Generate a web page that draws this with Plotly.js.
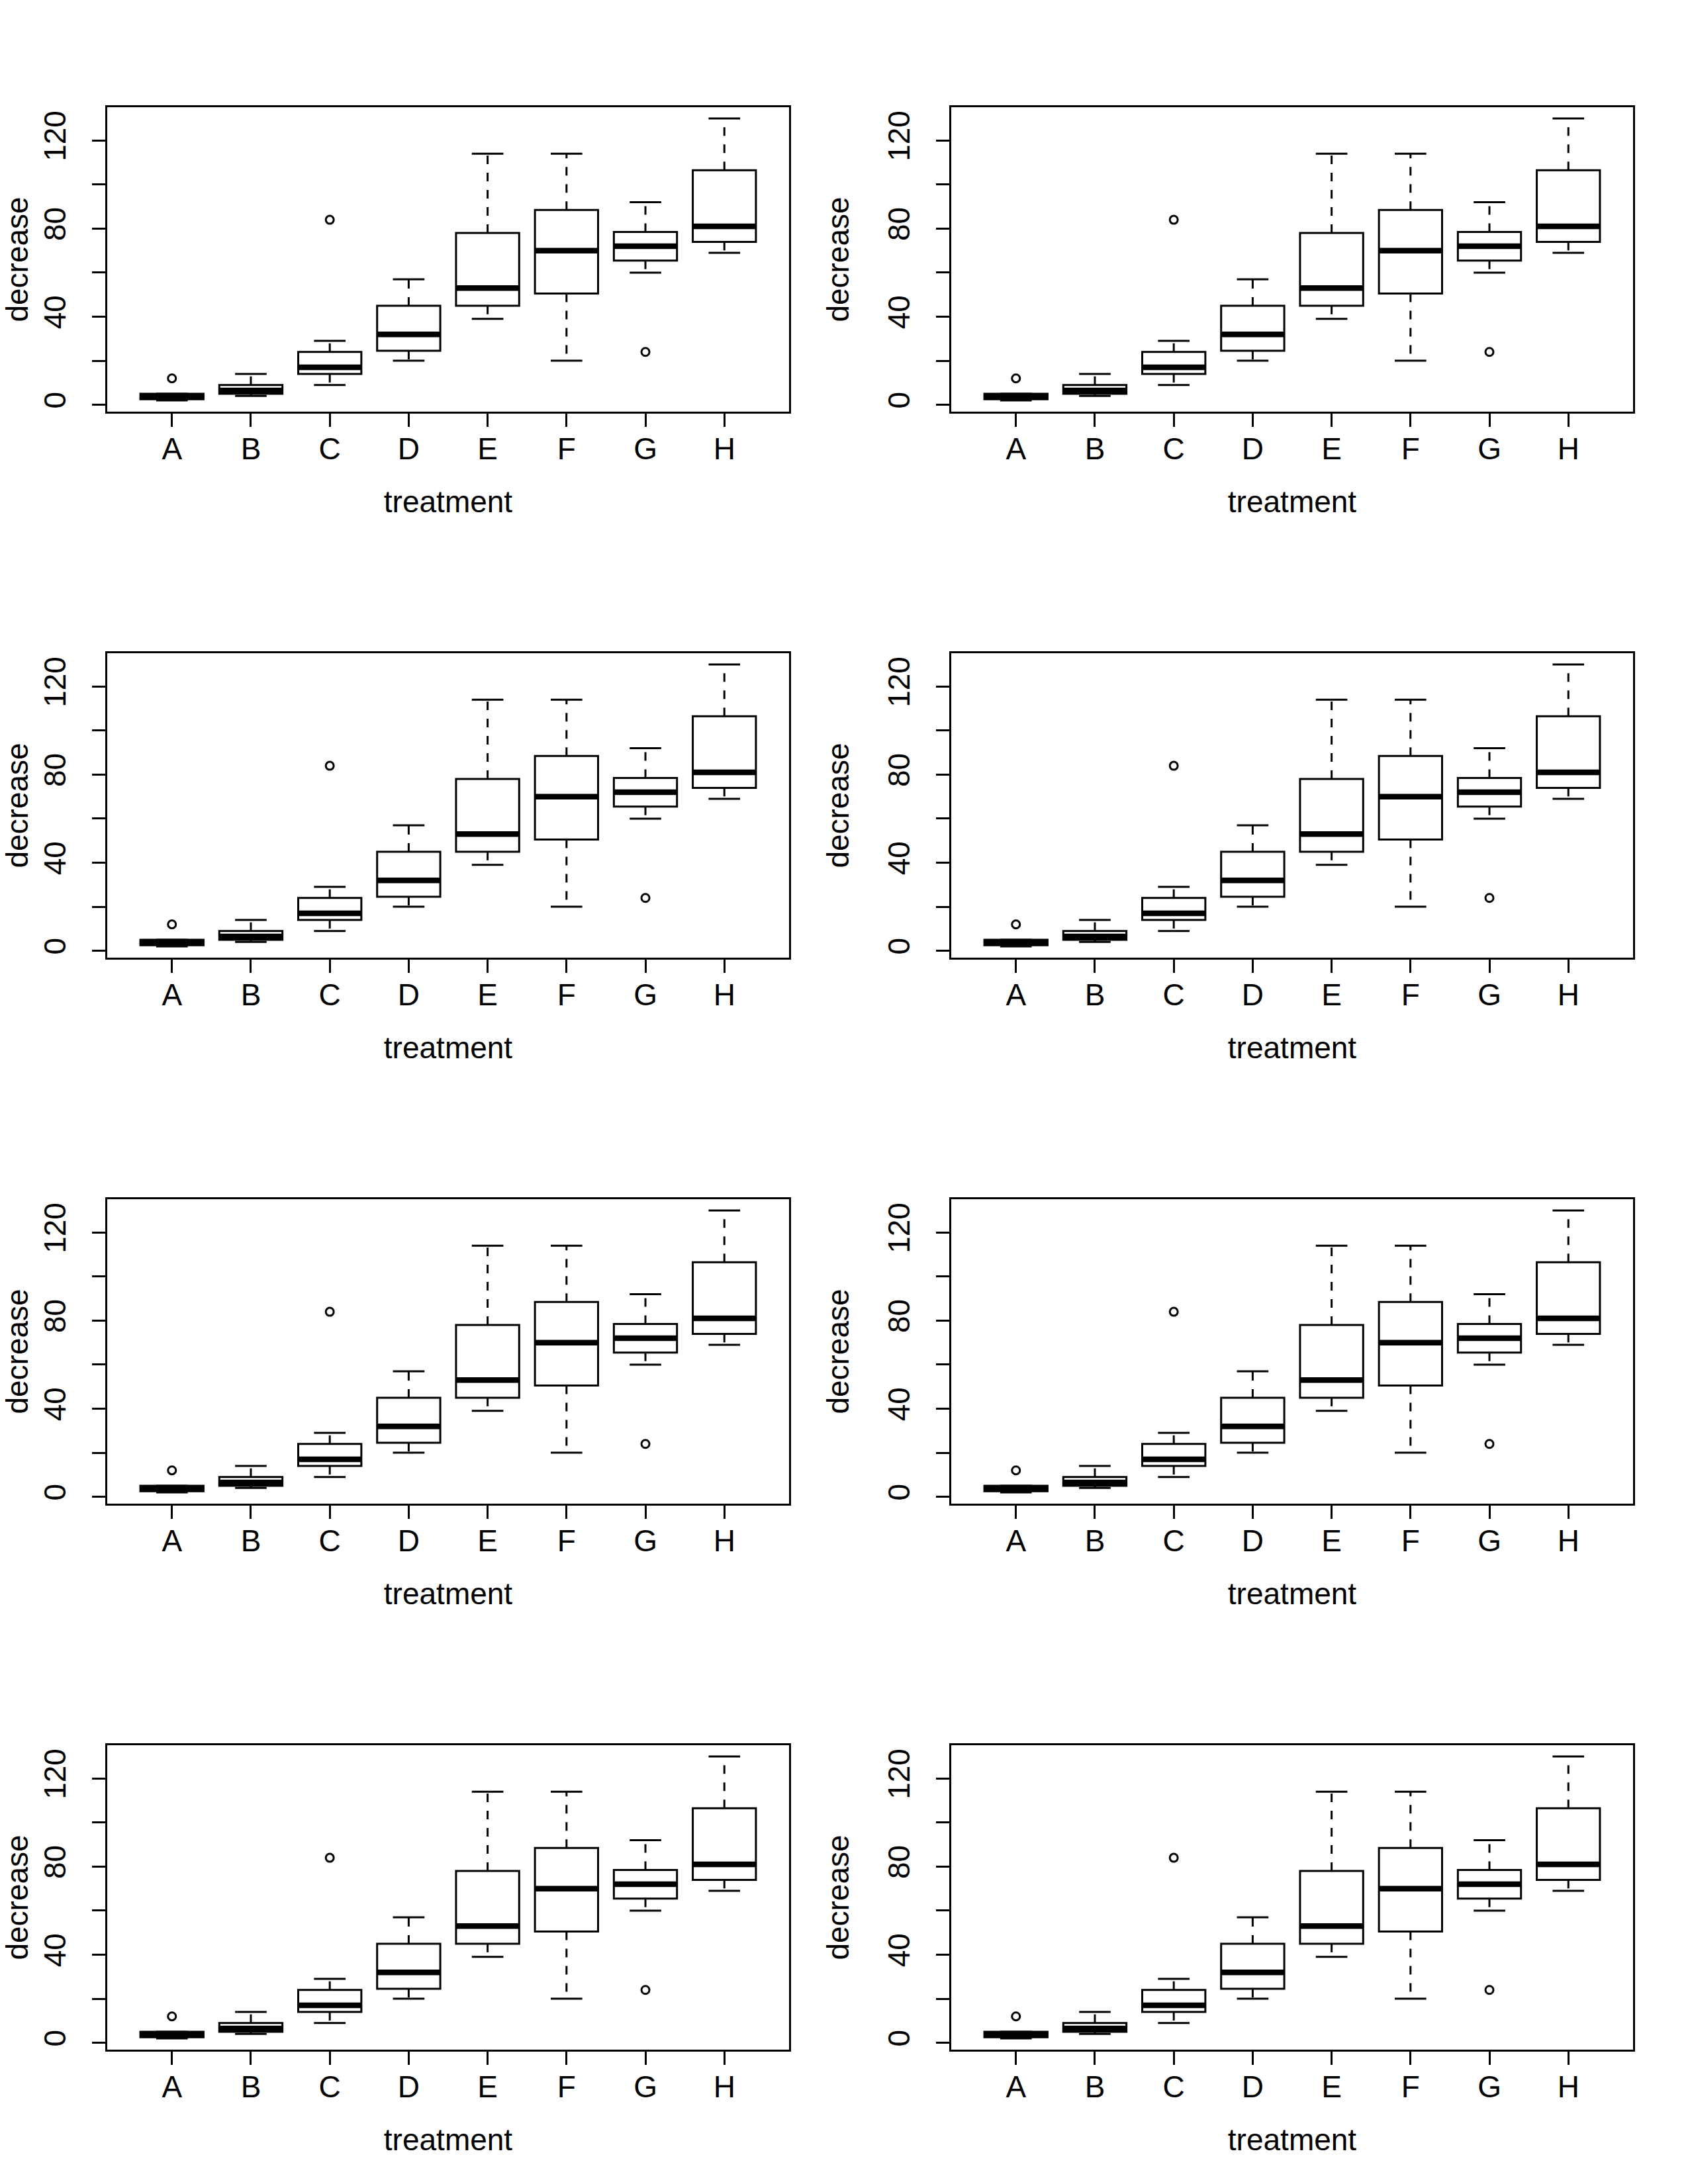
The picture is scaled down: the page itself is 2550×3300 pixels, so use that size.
<!DOCTYPE html>
<html>
<head>
<meta charset="utf-8">
<script src="https://cdn.plot.ly/plotly-3.0.1.min.js"></script>
<style>body{margin:0;padding:0;background:#fff}</style>
</head>
<body>
<div id="chart" style="width:2550px;height:3300px"></div>
<script>
// ---- data (OrchardSprays, decrease by treatment) ----
var categories = ['A', 'B', 'C', 'D', 'E', 'F', 'G', 'H'];
var lowerWhisker = [2, 4, 9, 20, 39, 20, 60, 69];
var q1Values = [2.5, 5, 14, 24.5, 45, 50.5, 65.5, 74];
var medianValues = [4, 6.5, 17, 32, 53, 70, 72, 81];
var q3Values = [5, 9, 24, 45, 78, 88.5, 78.5, 106.5];
var upperWhisker = [5, 14, 29, 57, 114, 114, 92, 130];
var outlierCategory = ['A', 'C', 'G'];
var outlierValues = [12, 84, 24];
var yTickValues = [0, 20, 40, 60, 80, 100, 120];
var yTickLabels = ['0', '', '40', '', '80', '', '120'];
var xTitle = 'treatment';
var yTitle = 'decrease';

(function () {
  var W = 2550, H = 3300;
  var FONT = 'Liberation Sans, Arial, Helvetica, sans-serif';
  var pos = categories.map(function (c, i) { return i + 1; });
  function catPos(c) { return categories.indexOf(c) + 1; }

  var traces = [];
  var layout = {
    width: W, height: H,
    margin: {l: 0, r: 0, t: 0, b: 0, pad: 0},
    paper_bgcolor: 'white', plot_bgcolor: 'white',
    showlegend: false, hovermode: false,
    font: {family: FONT, size: 46, color: 'black'}
  };

  for (var k = 0; k < 8; k++) {
    var row = Math.floor(k / 2), col = k % 2;
    var px0 = 162 + 1275 * col, px1 = 1192 + 1275 * col;
    var pTop = 162 + 825 * row, pBot = 622 + 825 * row;
    var sfx = k === 0 ? '' : String(k + 1);
    var xa = 'x' + sfx, ya = 'y' + sfx;

    // whiskers (dashed)
    var wx = [], wy = [];
    pos.forEach(function (p, i) {
      wx.push(p, p, null, p, p, null);
      wy.push(q3Values[i], upperWhisker[i], null, q1Values[i], lowerWhisker[i], null);
    });
    traces.push({type: 'scatter', mode: 'lines', x: wx, y: wy, xaxis: xa, yaxis: ya,
      line: {color: 'black', width: 3, dash: '13px,13px'}, hoverinfo: 'skip'});

    // staples
    var sx = [], sy = [];
    pos.forEach(function (p, i) {
      sx.push(p - 0.2, p + 0.2, null, p - 0.2, p + 0.2, null);
      sy.push(upperWhisker[i], upperWhisker[i], null, lowerWhisker[i], lowerWhisker[i], null);
    });
    traces.push({type: 'scatter', mode: 'lines', x: sx, y: sy, xaxis: xa, yaxis: ya,
      line: {color: 'black', width: 3}, hoverinfo: 'skip'});

    // boxes
    traces.push({type: 'box', x: pos, q1: q1Values, median: medianValues, q3: q3Values,
      lowerfence: q1Values, upperfence: q3Values, width: 0.8, whiskerwidth: 0,
      fillcolor: 'white', line: {color: 'black', width: 3}, boxpoints: false,
      xaxis: xa, yaxis: ya, hoverinfo: 'skip'});

    // thick medians
    var mx = [], my = [];
    pos.forEach(function (p, i) {
      mx.push(p - 0.4, p + 0.4, null);
      my.push(medianValues[i], medianValues[i], null);
    });
    traces.push({type: 'scatter', mode: 'lines', x: mx, y: my, xaxis: xa, yaxis: ya,
      line: {color: 'black', width: 8.5}, hoverinfo: 'skip'});

    // outliers
    traces.push({type: 'scatter', mode: 'markers', x: outlierCategory.map(catPos), y: outlierValues,
      xaxis: xa, yaxis: ya,
      marker: {symbol: 'circle-open', size: 12, color: 'black', line: {width: 3, color: 'black'}},
      hoverinfo: 'skip'});

    layout['xaxis' + sfx] = {
      domain: [px0 / W, px1 / W], anchor: ya,
      range: [0.18, 8.82], tickmode: 'array', tickvals: pos, ticktext: categories,
      showline: true, mirror: true, linecolor: 'black', linewidth: 3,
      ticks: 'outside', ticklen: 20, tickwidth: 3, tickcolor: 'black',
      ticklabelstandoff: -6,
      showgrid: false, zeroline: false, automargin: 'left',
      tickfont: {family: FONT, size: 46, color: 'black'},
      title: {text: xTitle, standoff: 39, font: {family: FONT, size: 46, color: 'black'}}
    };
    layout['yaxis' + sfx] = {
      domain: [(H - pBot) / H, (H - pTop) / H], anchor: xa,
      range: [-3.12, 135.12], tickmode: 'array', tickvals: yTickValues, ticktext: yTickLabels,
      tickangle: -90,
      showline: true, mirror: true, linecolor: 'black', linewidth: 3,
      ticks: 'outside', ticklen: 20, tickwidth: 3, tickcolor: 'black',
      ticklabelstandoff: 22,
      showgrid: false, zeroline: false, automargin: 'top',
      tickfont: {family: FONT, size: 46, color: 'black'},
      title: {text: yTitle, standoff: 35, font: {family: FONT, size: 46, color: 'black'}}
    };
  }

  Plotly.newPlot('chart', traces, layout, {staticPlot: true, displayModeBar: false});
})();
</script>
</body>
</html>
